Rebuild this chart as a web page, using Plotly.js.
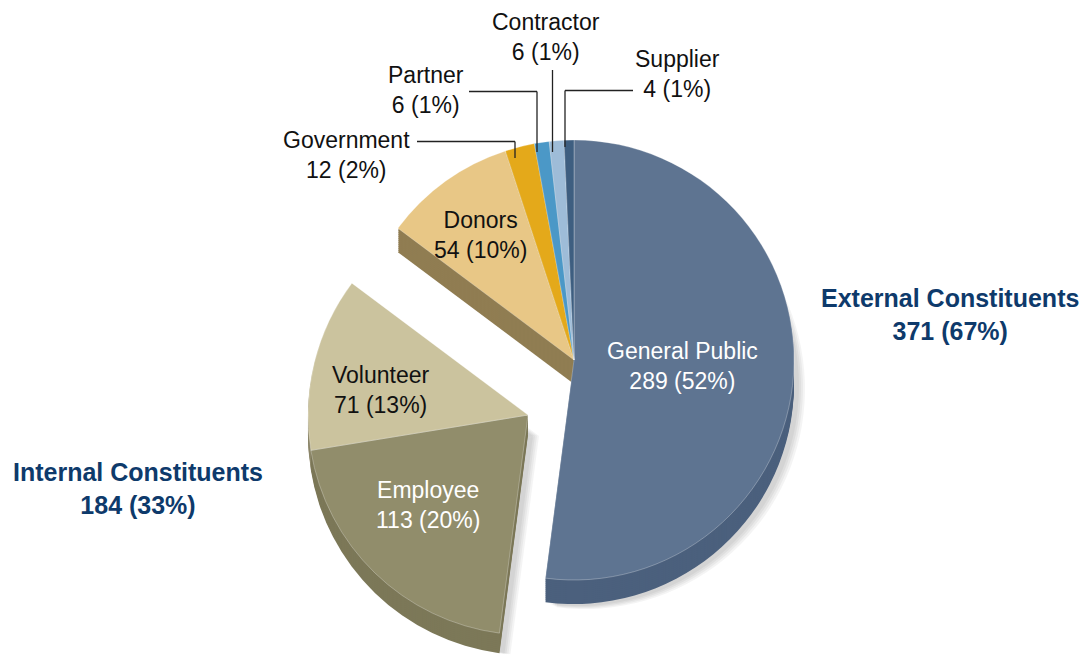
<!DOCTYPE html>
<html><head><meta charset="utf-8">
<script src="https://cdn.plot.ly/plotly-3.0.1.min.js"></script>
<style>html,body{margin:0;padding:0;background:#fff;}#chart{width:1092px;height:656px;}</style>
</head><body><div id="chart"></div>
<script>
// ---- data ----
const labels = ['General Public','Employee','Volunteer','Donors','Government','Partner','Contractor','Supplier'];
const values = [289, 113, 71, 54, 12, 6, 6, 4];
const groupOf = ['External','Internal','Internal','External','External','External','External','External'];
const groupKeys = ['Internal','External'];
const groupNames = ['Internal Constituents','External Constituents'];

// ---- styles ----
const topColors  = ['#5E7491','#918D6B','#CBC39E','#E8C786','#E4A91A','#4B98C7','#9EBCD8','#3E5E80'];
const sideColors = ['#4B607D','#7C7858','#8C876A','#907D52','#A37915','#366F94','#7290AA','#2D4662'];
const textColors = ['#ffffff','#ffffff','#111111','#111111','#111111','#111111','#111111','#111111'];
const labelPos = [[682,366],[428,505],[381,390],[480,235],[346,155],[426,90],[546,37],[677,74]];
const groupPos = {Internal:[138,488], External:[950,314]};

const W = 1092, H = 656;
const fx = x => x / W, fy = y => 1 - y / H;
const R = 220;
const pies = {External:{cx:574, cy:360, depth:24}, Internal:{cx:528, cy:415, depth:20}};
const FONT = 'Liberation Sans, Arial, Helvetica, sans-serif';

function pieTrace(group, dx, dy, colorFn, lineColor){
  const p = pies[group];
  const cx = p.cx + dx, cy = p.cy + dy;
  const colors = labels.map((l,i) => groupOf[i] === group ? colorFn(i) : 'rgba(0,0,0,0)');
  const lines = labels.map((l,i) => (groupOf[i] === group && lineColor) ? lineColor : 'rgba(0,0,0,0)');
  return {
    type:'pie', labels: labels, values: values, sort:false, direction:'clockwise', rotation:0,
    domain:{x:[fx(cx-R), fx(cx+R)], y:[Math.max(0,fy(cy+R)), Math.min(1,fy(cy-R))]},
    marker:{colors: colors, line:{color: lines, width: lineColor ? 0.8 : 0}},
    textinfo:'none', hoverinfo:'skip', showlegend:false
  };
}

const traces = [];
// soft drop shadow
groupKeys.forEach(g => {
  const d = pies[g].depth;
  for (let k = 4; k >= 1; k--) {
    const dy = Math.min(d + 1 + k, g === 'Internal' ? 21 : 40);
    traces.push(pieTrace(g, 3 + 2*k, dy, () => 'rgba(0,0,0,0.045)', null));
  }
});
// extruded sides
groupKeys.forEach(g => {
  const d = pies[g].depth;
  for (let dy = d; dy >= 1; dy -= 2) {
    traces.push(pieTrace(g, 0, dy, i => sideColors[i], null));
  }
});
// top faces
groupKeys.forEach(g => traces.push(pieTrace(g, 0, 0, i => topColors[i], 'rgba(255,255,255,0.35)')));

// ---- labels ----
const total = values.reduce((a,b) => a+b, 0);
const annotations = labels.map((l,i) => ({
  xref:'paper', yref:'paper', x: fx(labelPos[i][0]), y: fy(labelPos[i][1]),
  xanchor:'center', yanchor:'middle', showarrow:false, align:'center',
  text: l + '<br>' + values[i] + ' (' + Math.round(values[i]/total*100) + '%)',
  font:{family:FONT, size:23, color:textColors[i]}
}));
groupKeys.forEach((g,gi) => {
  const sum = values.filter((v,i) => groupOf[i] === g).reduce((a,b) => a+b, 0);
  annotations.push({
    xref:'paper', yref:'paper', x: fx(groupPos[g][0]), y: fy(groupPos[g][1]),
    xanchor:'center', yanchor:'middle', showarrow:false, align:'center',
    text: '<b>' + groupNames[gi] + '</b><br><b>' + sum + ' (' + Math.round(sum/total*100) + '%)</b>',
    font:{family:FONT, size:25, color:'#0E3A6B'}
  });
});

// leader lines (elbow connectors)
const leaders = [
  [[417,141.5],[515,141.5],[515,158]],
  [[469,91.5],[537,91.5],[537,152]],
  [[552.5,70],[552.5,152]],
  [[633,90.5],[565,90.5],[565,147]]
];
const shapes = [];
leaders.forEach(pts => {
  for (let j = 0; j < pts.length-1; j++) {
    shapes.push({type:'line', xref:'paper', yref:'paper',
      x0: fx(pts[j][0]), y0: fy(pts[j][1]), x1: fx(pts[j+1][0]), y1: fy(pts[j+1][1]),
      line:{color:'#222', width:1.3}});
  }
});

Plotly.newPlot('chart', traces, {
  width: W, height: H, margin:{l:0,r:0,t:0,b:0},
  paper_bgcolor:'#ffffff', plot_bgcolor:'#ffffff',
  showlegend:false, annotations: annotations, shapes: shapes,
  font:{family:FONT}
}, {displayModeBar:false, staticPlot:true});
</script></body></html>
